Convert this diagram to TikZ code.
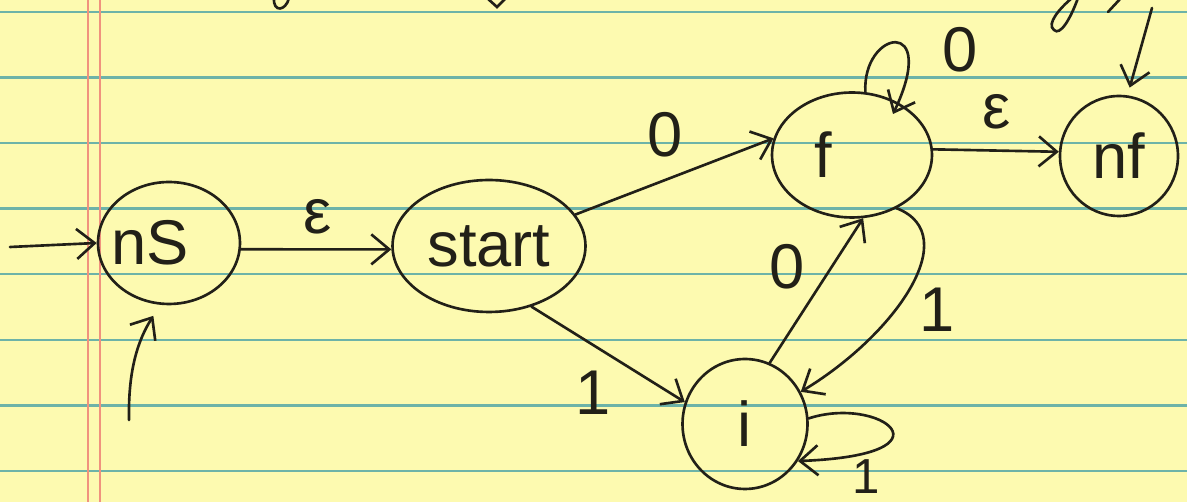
\documentclass[tikz,border=0pt]{standalone}
\usepackage{fontspec}
\setmainfont{Liberation Sans}
\usetikzlibrary{arrows.meta,shapes.geometric}
\definecolor{paper}{HTML}{FDFAB0}
\definecolor{rulecol}{HTML}{6DB3A8}
\definecolor{margincol}{HTML}{F0927E}
\definecolor{ink}{HTML}{222018}
\tikzset{
  state/.style={ellipse, draw=ink, line width=1.5pt, inner sep=0pt},
  tr/.style={draw=ink, line width=1.5pt, line cap=round,
    -{Straight Barb[length=0.36cm,width=0.6cm]}},
  lbl/.style={text=ink, font=\fontsize{36}{40}\selectfont, inner sep=0pt},
  pen/.style={draw=ink, line width=1.5pt, line cap=round},
  ruled/.style={draw=rulecol, line width=1.5pt},
  redline/.style={draw=margincol, line width=1.2pt}
}
\begin{document}
\begin{tikzpicture}[x=0.02cm,y=-0.02cm]
% sheet of ruled paper
\fill[paper] (0,0) rectangle (1187,502);
\useasboundingbox (0,0) rectangle (1187,502);
\foreach \y in {12,77.5,143,208.5,274,340,405.5,471}
  \draw[ruled] (0,\y) -- (1187,\y);
\draw[redline] (88,0) -- (88,502);
\draw[redline] (100,0) -- (100,502);

% ends of writing from the line above
\draw[pen] (274,-2) .. controls (273,13) and (286,11) .. (289,-2);
\draw[pen] (487,-2) -- (497,7) -- (506,-2);
\draw[pen] (1078,-2) .. controls (1070,20) and (1060,36) .. (1054,30)
           .. controls (1046,24) and (1060,8) .. (1072,-2);
\draw[pen] (1121,-2) -- (1108,12);

% states
\node[state, minimum width=2.84cm, minimum height=2.44cm,
      label={[lbl,xshift=-0.38cm]center:nS}] (nS) at (169,243) {};
\node[state, minimum width=3.86cm, minimum height=2.64cm,
      label={[lbl]center:start}] (start) at (489,246) {};
\node[state, minimum width=3.2cm, minimum height=2.5cm,
      label={[lbl,xshift=-0.58cm]center:f}] (f) at (852,155) {};
\node[state, minimum width=2.36cm, minimum height=2.4cm,
      label={[lbl]center:nf}] (nf) at (1119,156) {};
\node[state, minimum width=2.5cm, minimum height=2.6cm,
      label={[lbl]center:i}] (i) at (745,424) {};

% free ends of the entry arrows
\coordinate (nsin) at (10,247);
\coordinate (nsbot) at (129,420);
\coordinate (nftop) at (1152,8);
\coordinate (floopend) at (893,114);

% transitions
\draw[tr] (nsin) -- (nS.180);
\draw[tr, shorten >=0.26cm] (nsbot) .. controls (128,370) and (138,340) .. (nS.262);
\draw[tr, shorten >=0.16cm] (nftop) -- (nf.82);
\draw[tr] (nS.-5) -- (start.182);
\draw[tr] (start.20) -- (f.168);
\draw[tr] (start.-55) -- (i.160);
\draw[tr] (i.68) -- (f.-80);
\draw[tr] (f.-50) .. controls (965,235) and (895,335) .. (i.30);
\draw[tr] (f.4) -- (nf.176);
\draw[tr] (f.78) .. controls (862,30) and (940,15) .. (floopend);
\draw[tr] (i.5) .. controls (880,395) and (960,455) .. (i.-35);

% transition labels
\node[lbl] (eps1) at (318,217) {ε};
\node[lbl] (zero1) at (665,135) {0};
\node[lbl] (eps2) at (997,112) {ε};
\node[lbl] (zero2) at (960,50) {0};
\node[lbl] (zero3) at (787,267) {0};
\node[lbl] (one1) at (937,310) {1};
\node[lbl] (one2) at (593,393) {1};
\node[lbl, font=\fontsize{28}{32}\selectfont] (one3) at (866,477) {1};
\end{tikzpicture}
\end{document}
